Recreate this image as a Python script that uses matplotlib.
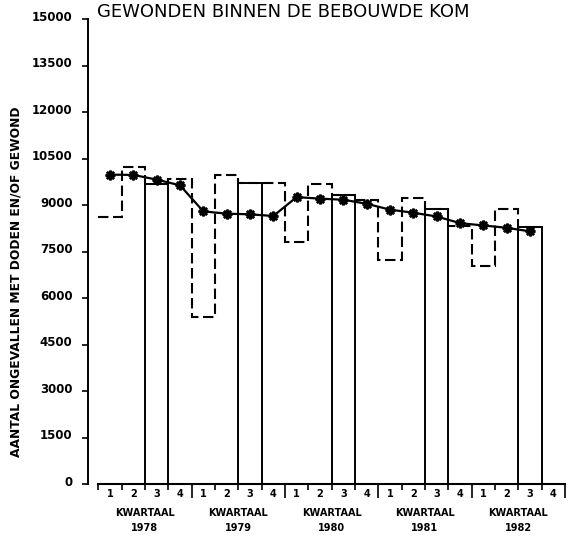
import matplotlib
matplotlib.use("Agg")
import matplotlib.pyplot as plt
import matplotlib.transforms as mtransforms
import numpy as np

# ---- data ----
years = ["1978", "1979", "1980", "1981", "1982"]
quarter_labels = ["1", "2", "3", "4"]
# actual quarterly counts, 1978 Q1 .. 1982 Q3
quarterly = [8610, 10210, 9690, 9830,
             5380, 9960, 9720, 9720,
             7800, 9690, 9330, 9170,
             7230, 9225, 8880, 8310,
             7025, 8860, 8290]
# smoothed / trend values (line with markers)
trend = [9980, 9970, 9820, 9635,
         8795, 8720, 8700, 8645,
         9255, 9205, 9170, 9040,
         8850, 8750, 8630, 8415,
         8340, 8265, 8150]
y_ticks = [0, 1500, 3000, 4500, 6000, 7500, 9000, 10500, 12000, 13500, 15000]
title = "GEWONDEN BINNEN DE BEBOUWDE KOM"
ylabel = "AANTAL ONGEVALLEN MET DODEN EN/OF GEWOND"

n_q = len(years) * 4
edges = np.arange(len(quarterly) + 1)
centers = np.arange(len(quarterly)) + 0.5

fig = plt.figure(figsize=(5.74, 5.52), dpi=100)
ax = fig.add_axes([98.3 / 574, (552 - 484) / 552, (565 - 98.3) / 574, (484 - 19) / 552])
ax.set_xlim(0, n_q)
ax.set_ylim(0, 15000)

# dashed step outline of all quarters
ax.stairs(quarterly, edges, baseline=None, color="black", linewidth=1.5,
          linestyle=(0, (5.0, 2.2)))
# solid bars for third quarters
q3_idx = [i for i in range(len(quarterly)) if i % 4 == 2]
ax.bar([centers[i] for i in q3_idx], [quarterly[i] for i in q3_idx], width=1.0,
       fill=False, edgecolor="black", linewidth=1.4)
# trend line
ax.plot(centers, trend, color="black", linewidth=1.6, marker=(8, 2, 0),
        markersize=7, markeredgewidth=1.8, zorder=5)

# spines
for s in ["top", "right"]:
    ax.spines[s].set_visible(False)
ax.spines["left"].set_position(("outward", 7.5))
ax.spines["left"].set_linewidth(1.4)
ax.spines["bottom"].set_linewidth(1.5)
ax.spines["bottom"].set_zorder(6)

# y ticks
ax.set_yticks(y_ticks)
ax.set_yticklabels([str(v) for v in y_ticks], fontsize=8.5, fontweight="bold")
ax.tick_params(axis="y", direction="out", length=4.5, width=1.2, pad=6.5)
off = mtransforms.ScaledTranslation(0, 2.5 / 72, fig.dpi_scale_trans)
for lab in ax.get_yticklabels():
    lab.set_transform(lab.get_transform() + off)

# x ticks: year boundaries long, quarter boundaries short
ax.set_xticks([i for i in range(0, n_q + 1) if i % 4 == 0 and i > 0])
ax.set_xticks([i for i in range(0, n_q + 1) if i % 4 != 0 or i == 0], minor=True)
ax.set_xticklabels([])
ax.tick_params(axis="x", which="major", direction="out", length=10, width=1.2)
ax.tick_params(axis="x", which="minor", direction="out", length=4, width=1.2)

# quarter numbers
for i in range(n_q):
    ax.annotate(quarter_labels[i % 4], xy=(i + 0.5, 0), xycoords=("data", "axes fraction"),
                xytext=(0, -3.5), textcoords="offset points", ha="center", va="top",
                fontsize=7, fontweight="bold")
# year labels
for k, yr in enumerate(years):
    ax.annotate("KWARTAAL\n" + yr, xy=(k * 4 + 2, 0), xycoords=("data", "axes fraction"),
                xytext=(0, -17.5), textcoords="offset points", ha="center", va="top",
                fontsize=7, fontweight="bold", linespacing=1.55)

fig.text(16 / 574, 1 - 282 / 552, ylabel, rotation=90, ha="center", va="center",
         fontsize=8.8, fontweight="bold")
fig.text(97 / 574, 1 - 12 / 552, title, ha="left", va="center", fontsize=13)

fig.savefig("out.png", dpi=100)
